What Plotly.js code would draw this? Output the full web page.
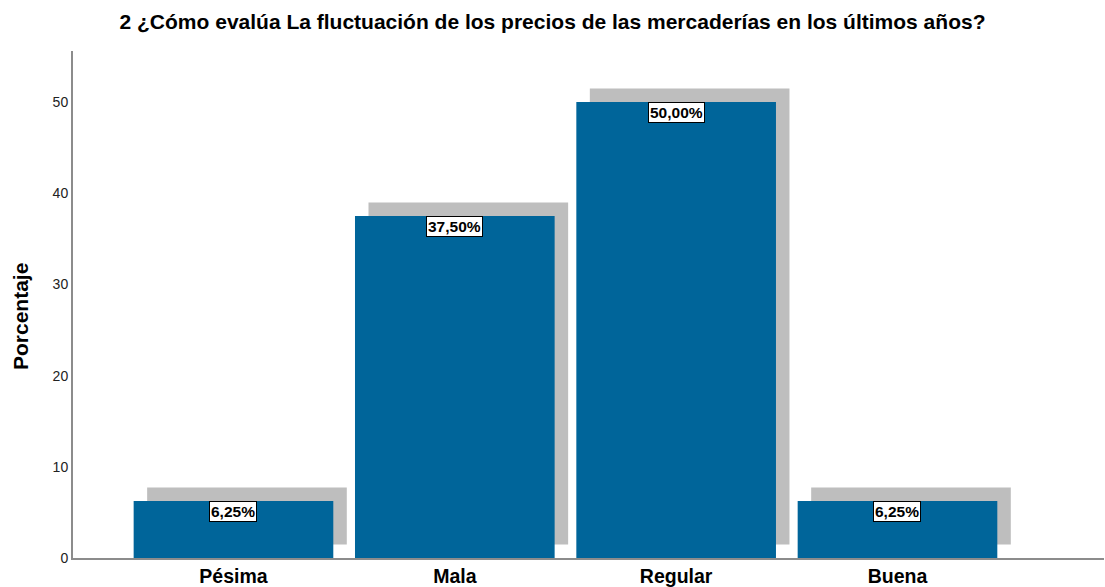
<!DOCTYPE html>
<html>
<head>
<meta charset="utf-8">
<script src="https://cdn.plot.ly/plotly-3.0.1.min.js"></script>
<style>html,body{margin:0;padding:0;background:#fff;}#chart{width:1105px;height:587px;}</style>
</head>
<body>
<div id="chart"></div>
<script>
const categories = ["Pésima", "Mala", "Regular", "Buena"];
const percentages = [6.25, 37.5, 50.0, 6.25];
const labels = ["6,25%", "37,50%", "50,00%", "6,25%"];
const titleText = "2 ¿Cómo evalúa La fluctuación de los precios de las mercaderías en los últimos años?";
const yTitle = "Porcentaje";
const yTicks = [0, 10, 20, 30, 40, 50];

const pos = categories.map((c, i) => i);
const shadowDx = 0.061, shadowBase = 1.48, barW = 0.902;
const FONT = 'Liberation Sans, Arial, sans-serif';

const shadow = {
  type: 'bar', x: pos.map(p => p + shadowDx), y: percentages,
  base: percentages.map(() => shadowBase), width: barW,
  marker: {color: '#bebebe', line: {width: 0}}, hoverinfo: 'skip', showlegend: false
};
const bars = {
  type: 'bar', x: pos, y: percentages, width: barW,
  marker: {color: '#00659a', line: {width: 0}}, showlegend: false
};

const annotations = pos.map((p, i) => ({
  x: p, y: percentages[i], xref: 'x', yref: 'y', yanchor: 'top', yshift: 0,
  text: labels[i], showarrow: false,
  font: {family: FONT, size: 15.5, color: '#000', weight: 'bold'},
  bgcolor: '#ffffff', bordercolor: '#000000', borderwidth: 1, borderpad: 1
}));
annotations.push({
  text: yTitle, showarrow: false, textangle: -90,
  xref: 'paper', yref: 'paper', x: (20 - 73) / 1031, y: (558 - 317) / 507,
  xanchor: 'center', yanchor: 'middle',
  font: {family: FONT, size: 21, color: '#000', weight: 'bold'}
});

const layout = {
  width: 1105, height: 587,
  margin: {l: 73, r: 1, t: 51, b: 29},
  paper_bgcolor: '#fff', plot_bgcolor: '#fff',
  barmode: 'overlay',
  font: {family: FONT, color: '#000'},
  title: {
    text: titleText, xref: 'container', x: 0.5, xanchor: 'center',
    yref: 'container', y: 1 - 22/587, yanchor: 'middle',
    font: {size: 21, weight: 'bold', color: '#000'}
  },
  xaxis: {
    range: [-0.725, 3.933], tickvals: pos, ticktext: categories,
    showgrid: false, zeroline: false, showline: true, linecolor: '#8c8c8c', linewidth: 2,
    ticks: '', tickfont: {size: 19.5, weight: 'bold', color: '#000'}, ticklabelstandoff: 0
  },
  yaxis: {
    range: [0, 55.6], tickvals: yTicks, ticktext: yTicks.map(String),
    showgrid: false, zeroline: false, showline: true, linecolor: '#8c8c8c', linewidth: 2,
    ticks: '', tickfont: {size: 14, color: '#222'}
  },
  annotations: annotations
};

Plotly.newPlot('chart', [shadow, bars], layout, {displayModeBar: false, staticPlot: true});
</script>
</body>
</html>
